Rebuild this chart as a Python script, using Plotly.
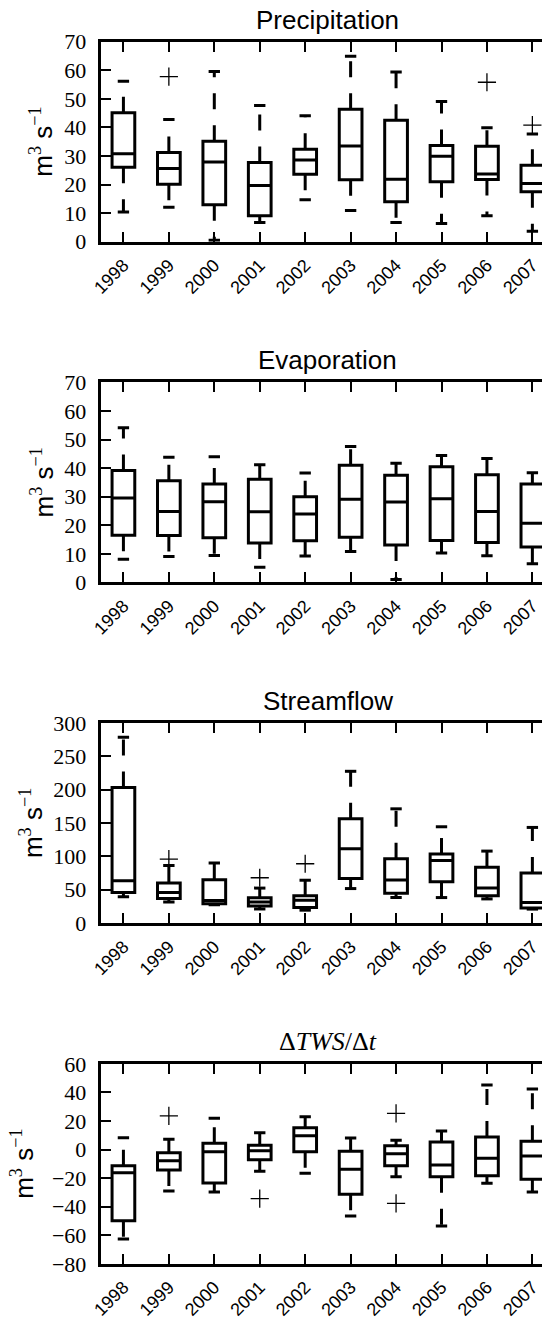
import plotly.graph_objects as go

years = ['1998', '1999', '2000', '2001', '2002', '2003', '2004', '2005', '2006', '2007']
positions = list(range(1, 11))

# Precipitation
precip_q1 = [26.1, 20.1, 12.9, 9.1, 23.6, 21.7, 14.0, 21.0, 21.8, 17.5]
precip_med = [30.8, 25.6, 27.9, 19.7, 28.6, 33.5, 21.9, 29.9, 23.7, 20.4]
precip_q3 = [45.1, 31.2, 35.2, 27.7, 32.4, 46.4, 42.5, 33.7, 33.4, 26.8]
precip_lo = [10.4, 12.1, 0.5, 6.7, 14.7, 10.9, 6.7, 6.4, 9.1, 3.7]
precip_hi = [56.2, 42.8, 59.6, 47.7, 44.1, 64.9, 59.4, 49.1, 39.9, 37.7]
precip_out_x = [2, 9, 10]
precip_out_y = [57.8, 55.8, 40.8]

# Evaporation
evap_q1 = [16.5, 16.4, 15.6, 13.8, 14.6, 15.8, 13.1, 14.7, 14.0, 12.4]
evap_med = [29.5, 24.8, 28.2, 24.7, 23.9, 29.1, 28.1, 29.3, 24.8, 20.7]
evap_q3 = [39.2, 35.6, 34.4, 36.1, 30.0, 41.0, 37.5, 40.5, 37.7, 34.4]
evap_lo = [8.1, 9.1, 9.4, 5.3, 9.2, 10.8, 1.0, 10.3, 9.3, 6.5]
evap_hi = [54.1, 43.8, 44.0, 41.2, 38.3, 47.6, 41.7, 44.4, 43.4, 38.4]
evap_out_x = []
evap_out_y = []

# Streamflow
flow_q1 = [46.0, 37.0, 29.0, 25.8, 23.4, 66.8, 44.9, 62.2, 41.2, 22.8]
flow_med = [63.5, 46.0, 34.0, 31.5, 34.4, 111.6, 64.8, 94.0, 52.8, 31.0]
flow_q3 = [203.5, 60.0, 65.0, 38.0, 40.9, 156.5, 96.7, 103.6, 83.6, 75.2]
flow_lo = [39.6, 31.5, 27.5, 21.2, 19.4, 51.8, 38.4, 38.3, 36.3, 21.0]
flow_hi = [278.7, 86.5, 90.0, 52.5, 64.3, 227.7, 171.4, 144.5, 108.0, 143.5]
flow_out_x = [2, 4, 5]
flow_out_y = [96.0, 68.0, 89.0]

# dTWS/dt
tws_q1 = [-49.8, -14.3, -23.4, -7.1, -1.5, -31.4, -11.3, -19.0, -18.3, -20.9]
tws_med = [-16.2, -7.8, -1.5, -0.8, 9.7, -13.9, -2.9, -10.8, -6.2, -4.5]
tws_q3 = [-11.3, -2.2, 4.3, 2.9, 15.3, -1.3, 2.7, 5.3, 8.8, 5.7]
tws_lo = [-62.6, -29.0, -29.7, -15.3, -16.7, -46.5, -19.0, -53.5, -23.6, -29.7]
tws_hi = [8.3, 7.1, 21.8, 11.8, 23.0, 8.1, 6.4, 13.0, 45.2, 42.4]
tws_out_x = [2, 4, 7, 7]
tws_out_y = [23.5, -34.4, 25.3, -37.7]

panels = [
    dict(title='Precipitation', tfont='Liberation Sans', q1=precip_q1, med=precip_med, q3=precip_q3,
         lo=precip_lo, hi=precip_hi, ox=precip_out_x, oy=precip_out_y, rng=[0, 70], dtick=10, ylx=42),
    dict(title='Evaporation', tfont='Liberation Sans', q1=evap_q1, med=evap_med, q3=evap_q3,
         lo=evap_lo, hi=evap_hi, ox=evap_out_x, oy=evap_out_y, rng=[0, 70], dtick=10, ylx=42),
    dict(title='Streamflow', tfont='Liberation Sans', q1=flow_q1, med=flow_med, q3=flow_q3,
         lo=flow_lo, hi=flow_hi, ox=flow_out_x, oy=flow_out_y, rng=[0, 300], dtick=50, ylx=31),
    dict(title='Δ<i>TWS</i>/Δ<i>t</i>', tfont='Liberation Serif', q1=tws_q1, med=tws_med, q3=tws_q3,
         lo=tws_lo, hi=tws_hi, ox=tws_out_x, oy=tws_out_y, rng=[-80, 60], dtick=20, ylx=23),
]

# the page body has an 8px margin, so the figure starts at (8, 8) in the window
OFF = 8
W, H = 550 - OFF, 1321 - OFF
AX_LEFT = 100.7 - OFF
STEP = 45.44
X_RANGE = [0.5, 0.5 + (W - AX_LEFT) / STEP]
TITLE_X = AX_LEFT + 5 * STEP
YLABEL = ('m<sup><span style="font-family:Liberation Serif">3</span></sup> '
          's<sup><span style="font-family:Liberation Serif">−1</span></sup>')

fig = go.Figure()
layout = dict(template='none', width=W, height=H, margin=dict(l=0, r=0, t=0, b=0, autoexpand=False),
              paper_bgcolor='white', plot_bgcolor='white', showlegend=False)
annotations = []

for i, p in enumerate(panels):
    n = i + 1
    sx = '' if n == 1 else str(n)
    ov = str(n + 4)
    top = 41.7 - OFF + 340.7 * i
    bot = top + 200
    dom = [1 - bot / H, 1 - top / H]
    xa, ya, yo = 'x' + sx, 'y' + sx, 'y' + ov

    fig.add_trace(go.Box(
        x=positions, q1=p['q1'], median=p['med'], q3=p['q3'],
        lowerfence=p['q1'], upperfence=p['q3'], width=0.5, whiskerwidth=0,
        line=dict(color='black', width=3), fillcolor='rgba(0,0,0,0)',
        boxpoints=False, xaxis=xa, yaxis=ya, hoverinfo='skip'))

    wx, wy = [], []
    for pos, a, b in zip(positions, p['q3'], p['hi']):
        wx += [pos, pos, None]; wy += [a, b, None]
    for pos, a, b in zip(positions, p['q1'], p['lo']):
        wx += [pos, pos, None]; wy += [a, b, None]
    fig.add_trace(go.Scatter(x=wx, y=wy, mode='lines',
                             line=dict(color='black', width=3, dash='16px,16px'),
                             xaxis=xa, yaxis=ya, hoverinfo='skip'))

    cx, cy = [], []
    for pos, a, b in zip(positions, p['lo'], p['hi']):
        cx += [pos - 0.125, pos + 0.125, None]; cy += [a, a, None]
        cx += [pos - 0.125, pos + 0.125, None]; cy += [b, b, None]
    fig.add_trace(go.Scatter(x=cx, y=cy, mode='lines', line=dict(color='black', width=3),
                             xaxis=xa, yaxis=yo, hoverinfo='skip'))

    fig.add_trace(go.Scatter(x=p['ox'], y=p['oy'], mode='markers',
                             marker=dict(symbol='cross-thin', size=13, color='black',
                                         line=dict(color='black', width=1.3)),
                             xaxis=xa, yaxis=yo, hoverinfo='skip'))

    layout['xaxis' + sx] = dict(domain=[AX_LEFT / W, 1], anchor=ya, range=X_RANGE,
                                tickmode='array', tickvals=positions, ticktext=years,
                                tickangle=-45, ticks='inside', ticklen=10, tickwidth=1.5,
                                tickcolor='black', showline=True, linecolor='black', linewidth=3,
                                mirror='ticks', showgrid=False, zeroline=False, automargin=False,
                                ticklabelstandoff=3,
                                tickfont=dict(family='Liberation Sans', size=18, color='black'))
    layout['yaxis' + sx] = dict(domain=dom, anchor=xa, range=p['rng'], dtick=p['dtick'],
                                tick0=0, ticks='inside', ticklen=10, tickwidth=1.5,
                                tickcolor='black', showline=True, linecolor='black', linewidth=3,
                                showgrid=False, zeroline=False, ticklabelstandoff=7, automargin=False,
                                tickfont=dict(family='Liberation Serif', size=22, color='black'))
    layout['yaxis' + ov] = dict(overlaying=ya, anchor=xa, side='right', range=p['rng'],
                                dtick=p['dtick'], tick0=0, ticks='inside', ticklen=5,
                                tickwidth=1.5, tickcolor='black', showline=False, automargin=False,
                                showticklabels=False, showgrid=False, zeroline=False)

    annotations.append(dict(text=p['title'], xref='paper', yref='paper',
                            x=TITLE_X / W, y=1 - (top - 22) / H, xanchor='center', yanchor='middle',
                            showarrow=False, font=dict(family=p['tfont'], size=26, color='black')))
    annotations.append(dict(text=YLABEL, xref='paper', yref='paper',
                            x=(p['ylx'] - OFF) / W, y=1 - (top + 100) / H, xanchor='center',
                            yanchor='middle', textangle=-90, showarrow=False,
                            font=dict(family='Liberation Sans', size=26, color='black')))

layout['annotations'] = annotations
fig.update_layout(**layout)
fig.write_html('out.html')
